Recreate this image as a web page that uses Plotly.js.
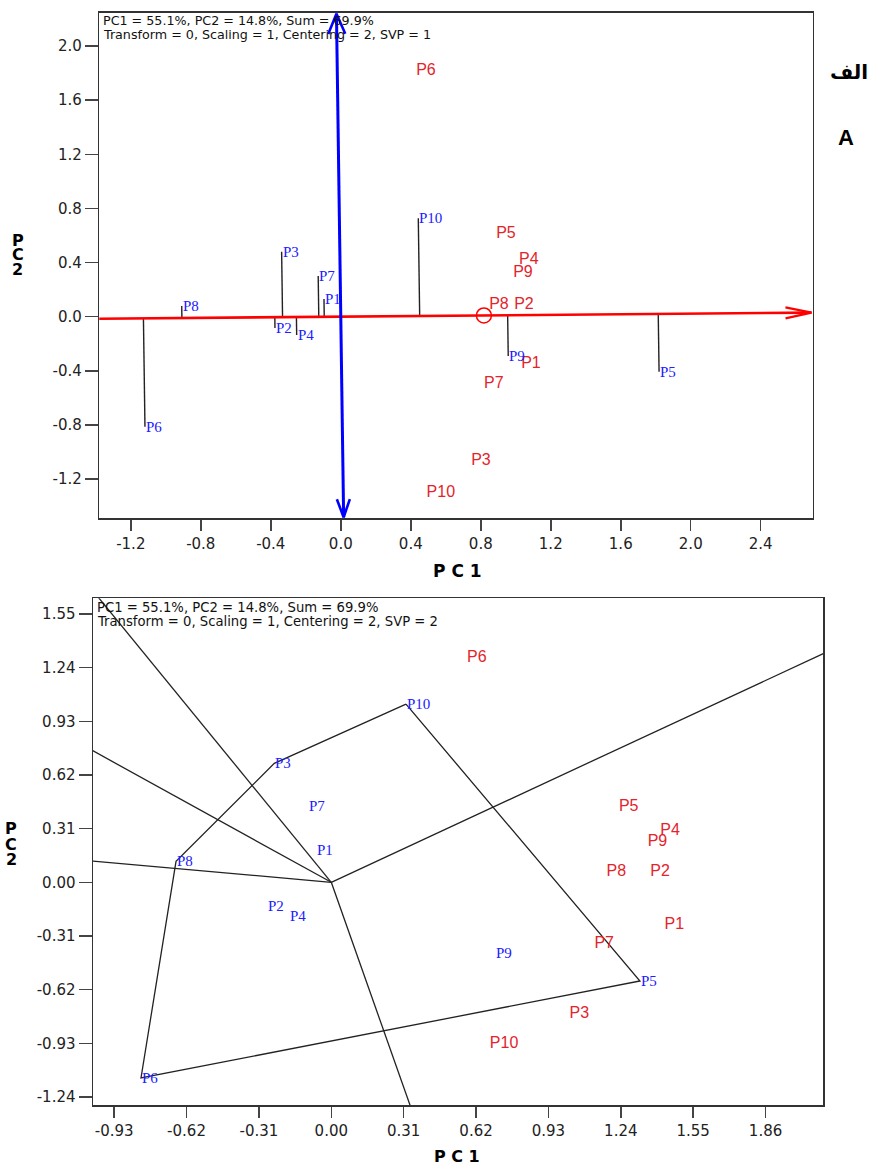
<!DOCTYPE html>
<html>
<head>
<meta charset="utf-8">
<script src="https://cdn.plot.ly/plotly-3.0.1.min.js"></script>
<style>html,body{margin:0;padding:0;background:#fff;}#chart{width:871px;height:1167px;}</style>
</head>
<body>
<div id="chart"></div>
<script>
// ---------------- data ----------------
const labels = ["P1","P2","P3","P4","P5","P6","P7","P8","P9","P10"];

// Top biplot (SVP = 1): red = rows (entries), blue = columns (testers)
const svp1RowX = [1.087, 1.047, 0.801, 1.075, 0.944, 0.487, 0.875, 0.904, 1.041, 0.572];
const svp1RowY = [-0.350, 0.086, -1.067, 0.418, 0.610, 1.816, -0.498, 0.086, 0.319, -1.300];
const svp1ColX = [-0.096, -0.376, -0.338, -0.252, 1.819, -1.119, -0.129, -0.909, 0.957, 0.443];
const svp1ColY = [0.130, -0.084, 0.479, -0.136, -0.407, -0.814, 0.300, 0.078, -0.291, 0.727];
const svp1AvgEnv = [0.818, 0.009];

// Bottom biplot (SVP = 2)
const svp2RowX = [1.469, 1.408, 1.062, 1.451, 1.274, 0.623, 1.169, 1.221, 1.397, 0.740];
const svp2RowY = [-0.248, 0.062, -0.762, 0.297, 0.436, 1.298, -0.357, 0.062, 0.230, -0.935];
const svp2ColX = [-0.066, -0.277, -0.244, -0.182, 1.322, -0.815, -0.099, -0.665, 0.701, 0.320];
const svp2ColY = [0.184, -0.135, 0.687, -0.195, -0.570, -1.130, 0.439, 0.121, -0.406, 1.029];
const hullOrder = ["P10","P5","P6","P8","P3"];

// tick labels
const topXTicks = [-1.2,-0.8,-0.4,0.0,0.4,0.8,1.2,1.6,2.0,2.4];
const topYTicks = [-1.2,-0.8,-0.4,0.0,0.4,0.8,1.2,1.6,2.0];
const botXTicks = [-0.93,-0.62,-0.31,0.00,0.31,0.62,0.93,1.24,1.55,1.86];
const botYTicks = [-1.24,-0.93,-0.62,-0.31,0.00,0.31,0.62,0.93,1.24,1.55];

const header1 = "PC1 = 55.1%, PC2 = 14.8%, Sum = 69.9%";
const header2Top = "Transform = 0, Scaling = 1, Centering = 2, SVP = 1";
const header2Bot = "Transform = 0, Scaling = 1, Centering = 2, SVP = 2";

// ---------------- layout geometry ----------------
const W = 871, H = 1167;
const topBox = {l: 99.3, r: 812.7, t: 12.7, b: 518.3};
const botBox = {l: 93, r: 823, t: 598.3, b: 1105};
const topXRange = [-1.380, 2.697], topYRange = [-1.49, 2.246];
const botXRange = [-1.0206, 2.106], botYRange = [-1.286, 1.640];
const sxTop = (topBox.r - topBox.l) / (topXRange[1] - topXRange[0]);
const syTop = (topBox.b - topBox.t) / (topYRange[1] - topYRange[0]);

const RED = "#e3242b", BLUE = "#2020ff", LINE = "#222";

function arms(tip, dir, lenPx, halfPx, sx, sy) {
  const dx = dir[0]*sx, dy = dir[1]*sy, n = Math.hypot(dx, dy);
  const ux = dx/n, uy = dy/n, qx = -uy, qy = ux;
  return {
    x: [tip[0] + (-ux*lenPx + qx*halfPx)/sx, tip[0], tip[0] + (-ux*lenPx - qx*halfPx)/sx],
    y: [tip[1] + (-uy*lenPx + qy*halfPx)/sy, tip[1], tip[1] + (-uy*lenPx - qy*halfPx)/sy]
  };
}

const traces = [];

// ---------- top: AEA ----------
const an = Math.hypot(svp1AvgEnv[0], svp1AvgEnv[1]);
const dir = [svp1AvgEnv[0]/an, svp1AvgEnv[1]/an];
const perp = [-dir[1], dir[0]];

// projection lines
const projX = [], projY = [];
svp1ColX.forEach((x, i) => {
  const y = svp1ColY[i];
  const t = x*dir[0] + y*dir[1];
  projX.push(x, t*dir[0], null);
  projY.push(y, t*dir[1], null);
});
traces.push({x: projX, y: projY, mode: "lines", line: {color: LINE, width: 1.4}, xaxis: "x", yaxis: "y", hoverinfo: "skip"});

// red AEA abscissa
const aeaTipT = 2.69 / dir[0];
const aeaTailT = -1.7;
traces.push({x: [aeaTailT*dir[0], aeaTipT*dir[0]], y: [aeaTailT*dir[1], aeaTipT*dir[1]], mode: "lines",
  line: {color: "#ff0000", width: 2.6}, xaxis: "x", yaxis: "y", hoverinfo: "skip"});
const redTip = [aeaTipT*dir[0], aeaTipT*dir[1]];
const ra = arms(redTip, dir, 26, 5.5, sxTop, syTop);
traces.push({x: ra.x, y: ra.y, mode: "lines", line: {color: "#ff0000", width: 2.2}, xaxis: "x", yaxis: "y", hoverinfo: "skip"});

// blue AEA ordinate
const topT = 2.238 / perp[1], botT = -1.482 / perp[1];
const bTop = [topT*perp[0], topT*perp[1]], bBot = [botT*perp[0], botT*perp[1]];
traces.push({x: [bBot[0], bTop[0]], y: [bBot[1], bTop[1]], mode: "lines", line: {color: "#0000ff", width: 3}, xaxis: "x", yaxis: "y", hoverinfo: "skip"});
const ba1 = arms(bTop, perp, 20, 8.5, sxTop, syTop);
const ba2 = arms(bBot, [-perp[0], -perp[1]], 18, 6.5, sxTop, syTop);
traces.push({x: ba1.x, y: ba1.y, mode: "lines", line: {color: "#0000ff", width: 2.6}, xaxis: "x", yaxis: "y", hoverinfo: "skip"});
traces.push({x: ba2.x, y: ba2.y, mode: "lines", line: {color: "#0000ff", width: 2.6}, xaxis: "x", yaxis: "y", hoverinfo: "skip"});

// average environment circle
traces.push({x: [svp1AvgEnv[0]], y: [svp1AvgEnv[1]], mode: "markers",
  marker: {symbol: "circle-open", size: 15, color: "#ff0000", line: {width: 1.5, color: "#ff0000"}}, xaxis: "x", yaxis: "y", hoverinfo: "skip"});

// red labels top
traces.push({x: svp1RowX, y: svp1RowY, text: labels, mode: "text", textposition: "middle center",
  textfont: {family: "Liberation Sans, Arial, sans-serif", size: 16, color: RED}, xaxis: "x", yaxis: "y", hoverinfo: "skip"});

// ---------- bottom: polygon ----------
const idx = name => labels.indexOf(name);
const hx = hullOrder.map(n => svp2ColX[idx(n)]);
const hy = hullOrder.map(n => svp2ColY[idx(n)]);
traces.push({x: hx.concat([hx[0]]), y: hy.concat([hy[0]]), mode: "lines", line: {color: LINE, width: 1.3}, xaxis: "x2", yaxis: "y2", hoverinfo: "skip"});
const rayX = [], rayY = [];
for (let i = 0; i < hx.length; i++) {
  const ax = hx[i], ay = hy[i], bx = hx[(i+1)%hx.length], by = hy[(i+1)%hx.length];
  const ex = bx-ax, ey = by-ay;
  const t = -(ax*ex + ay*ey) / (ex*ex + ey*ey);
  const fx = ax + t*ex, fy = ay + t*ey, fn = Math.hypot(fx, fy);
  rayX.push(0, fx/fn*8, null);
  rayY.push(0, fy/fn*8, null);
}
traces.push({x: rayX, y: rayY, mode: "lines", line: {color: LINE, width: 1.3}, xaxis: "x2", yaxis: "y2", hoverinfo: "skip"});

traces.push({x: svp2RowX, y: svp2RowY, text: labels, mode: "text", textposition: "middle center",
  textfont: {family: "Liberation Sans, Arial, sans-serif", size: 16, color: RED}, xaxis: "x2", yaxis: "y2", hoverinfo: "skip"});

// ---------------- annotations ----------------
const ann = [];
const blueFont = {family: "Liberation Serif, Times New Roman, serif", size: 15, color: BLUE};
svp1ColX.forEach((x, i) => ann.push({x: x, y: svp1ColY[i], xref: "x", yref: "y", text: labels[i], showarrow: false,
  xanchor: "left", yanchor: "middle", font: blueFont, borderpad: 0}));
svp2ColX.forEach((x, i) => ann.push({x: x, y: svp2ColY[i], xref: "x2", yref: "y2", text: labels[i], showarrow: false,
  xanchor: "left", yanchor: "middle", font: blueFont, borderpad: 0}));

const fx = px => px / W, fy = py => 1 - py / H;
const hdr = (t, px, py, size) => ({x: fx(px), y: fy(py), xref: "paper", yref: "paper", text: t, showarrow: false,
  xanchor: "left", yanchor: "middle", borderpad: 0, font: {family: "DejaVu Sans, sans-serif", size: size, color: "#111"}});
ann.push(hdr(header1, 102, 21, 12.7));
ann.push(hdr(header2Top, 102, 34.5, 12.7));
ann.push(hdr(header1, 96, 607, 13.2));
ann.push(hdr(header2Bot, 96, 621, 13.2));

const tt = (t, px, py, size) => ({x: fx(px), y: fy(py), xref: "paper", yref: "paper", text: "<b>" + t + "</b>", showarrow: false,
  xanchor: "center", yanchor: "middle", borderpad: 0, font: {family: "DejaVu Sans, sans-serif", size: size, color: "#000"}});
ann.push(tt("P C 1", 457.5, 571, 17));
ann.push(tt("P C 1", 457, 1156.5, 16));
["P","C","2"].forEach((c, i) => {
  ann.push(tt(c, 17.5, 240 + i*14.5, 16));
  ann.push(tt(c, 11, 829 + i*15, 16));
});
ann.push({x: fx(849), y: fy(72), xref: "paper", yref: "paper", text: "<b>الف</b>", showarrow: false,
  xanchor: "center", yanchor: "middle", font: {family: "DejaVu Sans, sans-serif", size: 20, color: "#000"}});
ann.push({x: fx(846), y: fy(137), xref: "paper", yref: "paper", text: "<b>A</b>", showarrow: false,
  xanchor: "center", yanchor: "middle", font: {family: "Liberation Sans, Arial, sans-serif", size: 22, color: "#000"}});

// ---------------- axes ----------------
const tickFont = {family: "DejaVu Sans, sans-serif", size: 15, color: "#222"};
function axis(domain, range, anchor, vals, dec, ticklen) {
  return {domain: domain, range: range, anchor: anchor, showline: true, mirror: true, linecolor: "#333", linewidth: 1.5,
    ticks: "outside", ticklen: ticklen, tickwidth: 1.5, tickcolor: "#444", tickvals: vals,
    ticktext: vals.map(v => v.toFixed(dec)), tickfont: tickFont, showgrid: false, zeroline: false, fixedrange: true};
}

const layout = {
  width: W, height: H, margin: {l: 0, r: 0, t: 0, b: 0, pad: 0},
  paper_bgcolor: "#fff", plot_bgcolor: "#fff", showlegend: false,
  xaxis: axis([topBox.l/W, topBox.r/W], topXRange, "y", topXTicks, 1, 11),
  yaxis: axis([1 - topBox.b/H, 1 - topBox.t/H], topYRange, "x", topYTicks, 1, 13),
  xaxis2: axis([botBox.l/W, botBox.r/W], botXRange, "y2", botXTicks, 2, 11),
  yaxis2: axis([1 - botBox.b/H, 1 - botBox.t/H], botYRange, "x2", botYTicks, 2, 13),
  annotations: ann
};

Plotly.newPlot("chart", traces, layout, {displayModeBar: false, staticPlot: true});
</script>
</body>
</html>
